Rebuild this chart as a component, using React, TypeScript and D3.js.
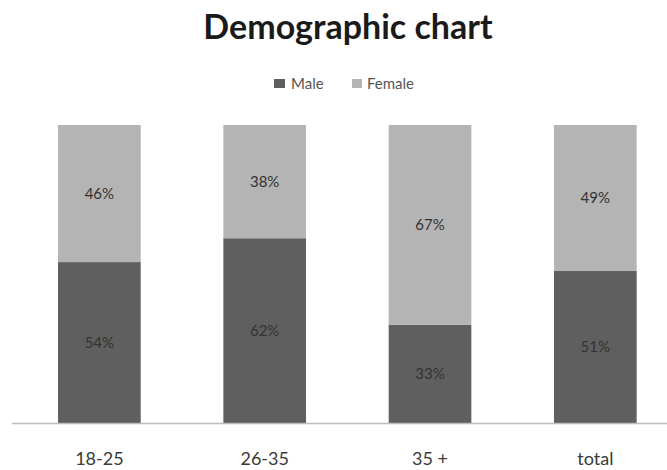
import React from "react";
import * as d3 from "d3";

const categories = ["18-25", "26-35", "35 +", "total"];
const male = [54, 62, 33, 51];
const female = [46, 38, 67, 49];
const seriesNames = ["Male", "Female"];
const colors = ["#5f5f5f", "#b4b4b4"];

const W = 667;
const H = 470;

export default function App() {
  const x = d3.scaleBand<string>().domain(categories).range([16.7, 678]).paddingInner(0.5).paddingOuter(0.25);
  const y = d3.scaleLinear().domain([0, 100]).range([423, 125]);
  const rows = categories.map((c, i) => ({ cat: c, Male: male[i], Female: female[i] }));
  const stacked = d3.stack<any>().keys(seriesNames)(rows);
  const font = "Lato, 'Open Sans', sans-serif";
  return (
    <div style={{ position: "absolute", left: 0, top: 0 }}>
      <svg width={W} height={H} style={{ display: "block", background: "#fff" }}>
        <text x={348} y={39} textAnchor="middle" fontFamily={font} fontWeight="bold" fontSize={34} fill="#1a1a1a">
          Demographic chart
        </text>
        <g fontFamily={font} fontSize={15} fill="#555">
          <rect x={274} y={79} width={11} height={9} fill={colors[0]} />
          <text x={291} y={89}>Male</text>
          <rect x={352} y={79} width={10} height={9} fill={colors[1]} />
          <text x={367} y={89}>Female</text>
        </g>
        {stacked.map((s, si) => (
          <g key={si} fill={colors[si]}>
            {s.map((d, i) => (
              <rect key={i} x={x(categories[i])} y={y(d[1])} width={x.bandwidth()} height={y(d[0]) - y(d[1])} />
            ))}
          </g>
        ))}
        {stacked.map((s, si) => (
          <g key={"l" + si} fontFamily={font} fontSize={15} fill="#333" textAnchor="middle">
            {s.map((d, i) => (
              <text key={i} x={(x(categories[i]) as number) + x.bandwidth() / 2} y={(y(d[0]) + y(d[1])) / 2 + 5}>
                {(d[1] - d[0]) + "%"}
              </text>
            ))}
          </g>
        ))}
        <line x1={12} x2={667} y1={423.5} y2={423.5} stroke="#bdbdbd" strokeWidth={1.5} />
        <g fontFamily={font} fontSize={18} fill="#3a3a3a" textAnchor="middle">
          {categories.map((c) => (
            <text key={c} x={(x(c) as number) + x.bandwidth() / 2} y={465}>{c}</text>
          ))}
        </g>
      </svg>
    </div>
  );
}
